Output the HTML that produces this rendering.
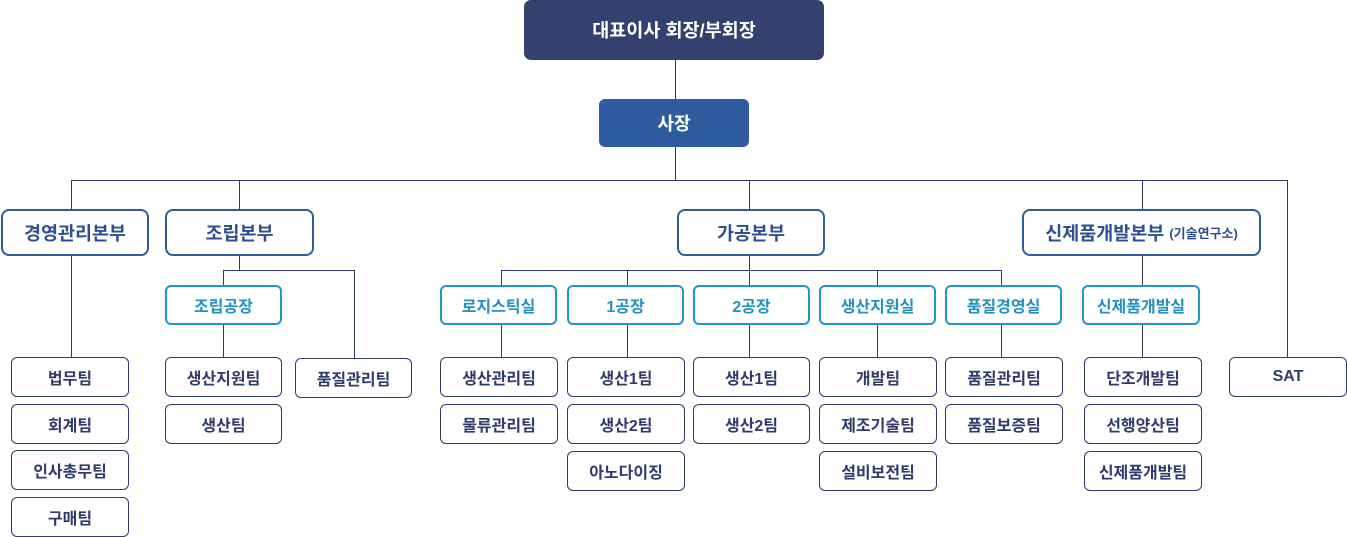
<!DOCTYPE html>
<html><head><meta charset="utf-8"><style>
body{margin:0;width:1347px;height:537px;position:relative;background:#fff;overflow:hidden;font-family:"Liberation Sans","Noto Sans CJK KR",sans-serif;}
.b{position:absolute;box-sizing:border-box;display:flex;align-items:center;justify-content:center;font-weight:700;white-space:nowrap;}
.top{background:#34416f;color:#fff;border-radius:7px;font-size:18.5px;}
.ceo{background:#2f5c9f;color:#fff;border-radius:6px;font-size:18px;}
.d{border:2px solid #2f5c9f;color:#2f4f8f;border-radius:8px;font-size:18.5px;background:#fff;}
.s{border:2px solid #2496c4;color:#2392c3;border-radius:6px;font-size:16px;background:#fff;}
.t{border:1px solid #2e3b6c;color:#2e3b6c;border-radius:6px;font-size:16px;background:#fff;}
.l{position:absolute;background:#2e3b6c;}
small{font-size:13px;margin-left:5px;font-weight:700;}
</style></head><body>
<div class="l" style="left:675px;top:60px;width:1px;height:39px"></div>
<div class="l" style="left:675px;top:147px;width:1px;height:33px"></div>
<div class="l" style="left:71px;top:180px;width:1217px;height:1px"></div>
<div class="l" style="left:71px;top:180px;width:1px;height:29px"></div>
<div class="l" style="left:239px;top:180px;width:1px;height:29px"></div>
<div class="l" style="left:749px;top:180px;width:1px;height:29px"></div>
<div class="l" style="left:1142px;top:180px;width:1px;height:29px"></div>
<div class="l" style="left:1287px;top:180px;width:1px;height:177px"></div>
<div class="l" style="left:71px;top:256px;width:1px;height:101px"></div>
<div class="l" style="left:239px;top:256px;width:1px;height:14px"></div>
<div class="l" style="left:223px;top:270px;width:131px;height:1px"></div>
<div class="l" style="left:223px;top:270px;width:1px;height:15px"></div>
<div class="l" style="left:354px;top:270px;width:1px;height:88px"></div>
<div class="l" style="left:223px;top:325px;width:1px;height:32px"></div>
<div class="l" style="left:749px;top:256px;width:1px;height:14px"></div>
<div class="l" style="left:501px;top:270px;width:501px;height:1px"></div>
<div class="l" style="left:501px;top:270px;width:1px;height:87px"></div>
<div class="l" style="left:627px;top:270px;width:1px;height:87px"></div>
<div class="l" style="left:749px;top:270px;width:1px;height:87px"></div>
<div class="l" style="left:877px;top:270px;width:1px;height:87px"></div>
<div class="l" style="left:1001px;top:270px;width:1px;height:87px"></div>
<div class="l" style="left:1142px;top:256px;width:1px;height:101px"></div>

<div class="b top" style="left:524px;top:0;width:300px;height:60px">대표이사 회장/부회장</div>
<div class="b ceo" style="left:599px;top:99px;width:150px;height:48px">사장</div>

<div class="b d" style="left:1px;top:209px;width:148px;height:47px">경영관리본부</div>
<div class="b d" style="left:165px;top:209px;width:149px;height:47px">조립본부</div>
<div class="b d" style="left:677px;top:209px;width:148px;height:47px">가공본부</div>
<div class="b d" style="left:1022px;top:209px;width:239px;height:47px">신제품개발본부<small>(기술연구소)</small></div>

<div class="b s" style="left:165px;top:285px;width:117px;height:40px">조립공장</div>
<div class="b s" style="left:440px;top:285px;width:117px;height:40px">로지스틱실</div>
<div class="b s" style="left:567px;top:285px;width:117px;height:40px">1공장</div>
<div class="b s" style="left:693px;top:285px;width:117px;height:40px">2공장</div>
<div class="b s" style="left:819px;top:285px;width:117px;height:40px">생산지원실</div>
<div class="b s" style="left:945px;top:285px;width:117px;height:40px">품질경영실</div>
<div class="b s" style="left:1082px;top:285px;width:118px;height:40px">신제품개발실</div>

<div class="b t" style="left:11px;top:357px;width:118px;height:40px">법무팀</div>
<div class="b t" style="left:11px;top:404px;width:118px;height:40px">회계팀</div>
<div class="b t" style="left:11px;top:450px;width:118px;height:40px">인사총무팀</div>
<div class="b t" style="left:11px;top:497px;width:118px;height:40px">구매팀</div>

<div class="b t" style="left:165px;top:357px;width:117px;height:40px">생산지원팀</div>
<div class="b t" style="left:165px;top:404px;width:117px;height:40px">생산팀</div>
<div class="b t" style="left:295px;top:358px;width:117px;height:40px">품질관리팀</div>

<div class="b t" style="left:440px;top:357px;width:118px;height:40px">생산관리팀</div>
<div class="b t" style="left:440px;top:404px;width:118px;height:40px">물류관리팀</div>

<div class="b t" style="left:567px;top:357px;width:118px;height:40px">생산1팀</div>
<div class="b t" style="left:567px;top:404px;width:118px;height:40px">생산2팀</div>
<div class="b t" style="left:567px;top:451px;width:118px;height:40px">아노다이징</div>

<div class="b t" style="left:693px;top:357px;width:117px;height:40px">생산1팀</div>
<div class="b t" style="left:693px;top:404px;width:117px;height:40px">생산2팀</div>

<div class="b t" style="left:819px;top:357px;width:118px;height:40px">개발팀</div>
<div class="b t" style="left:819px;top:404px;width:118px;height:40px">제조기술팀</div>
<div class="b t" style="left:819px;top:451px;width:118px;height:40px">설비보전팀</div>

<div class="b t" style="left:945px;top:357px;width:118px;height:40px">품질관리팀</div>
<div class="b t" style="left:945px;top:404px;width:118px;height:40px">품질보증팀</div>

<div class="b t" style="left:1084px;top:357px;width:118px;height:40px">단조개발팀</div>
<div class="b t" style="left:1084px;top:404px;width:118px;height:40px">선행양산팀</div>
<div class="b t" style="left:1084px;top:451px;width:118px;height:40px">신제품개발팀</div>

<div class="b t" style="left:1229px;top:357px;width:118px;height:40px">SAT</div>
</body></html>
